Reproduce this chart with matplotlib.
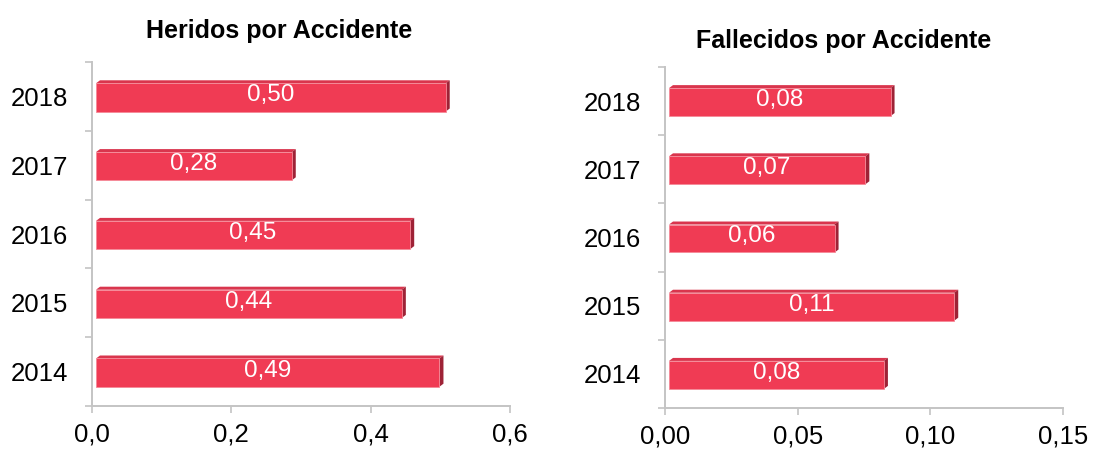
import numpy as np
import matplotlib
matplotlib.use("Agg")
import matplotlib.pyplot as plt
from matplotlib.patches import Polygon
from matplotlib.transforms import offset_copy

plt.rcParams['font.family'] = ['Liberation Sans', 'DejaVu Sans']

years = ['2014', '2015', '2016', '2017', '2018']
heridos = [0.493, 0.439, 0.451, 0.281, 0.502]
fallecidos = [0.081, 0.1075, 0.0624, 0.074, 0.0835]

FRONT = '#F03B54'
SIDE = '#9E2236'
TOP = '#D9354D'
AXIS_GREY = '#C4C4C4'
DPI = 100


def draw_panel(fig, rect, values, xmax, xticks, xfmt, title, title_xy):
    ax = fig.add_axes(rect)
    n = len(values)
    ypos = np.arange(n)
    ax.set_xlim(0, xmax)
    ax.set_ylim(-0.5, n - 0.5)

    # pixel -> data conversion for the 3d faces
    w_px = rect[2] * fig.get_figwidth() * DPI
    h_px = rect[3] * fig.get_figheight() * DPI
    dx = 4 * xmax / w_px
    dy = 3 * n / h_px
    h = 0.41
    shift = offset_copy(ax.transData, fig=fig, x=4, y=-1, units='dots')

    for y, v in zip(ypos, values):
        yb, yt = y - h / 2, y + h / 2
        ax.add_patch(Polygon([(0, yt), (v, yt), (v + dx, yt + dy), (dx, yt + dy)],
                             closed=True, facecolor=TOP, edgecolor='none', transform=shift))
        ax.add_patch(Polygon([(v, yb), (v, yt), (v + dx, yt + dy), (v + dx, yb + dy)],
                             closed=True, facecolor=SIDE, edgecolor='none', transform=shift))
        ax.barh(y, v, height=h, color=FRONT, edgecolor='#F58A98', linewidth=0.6, transform=shift)
        ax.text(v / 2, y + 0.03, xfmt(v), transform=shift, ha='center', va='center',
                color='white', fontsize=17.5)

    for s in ['top', 'right']:
        ax.spines[s].set_visible(False)
    for s in ['left', 'bottom']:
        ax.spines[s].set_color(AXIS_GREY)
        ax.spines[s].set_linewidth(1.4)

    ax.set_yticks(np.arange(-0.5, n, 1.0))
    ax.set_yticklabels([])
    ax.set_yticks(ypos, minor=True)
    ax.set_yticklabels(years, minor=True)
    ax.tick_params(axis='y', which='major', length=5, width=1.2, color=AXIS_GREY)
    ax.tick_params(axis='y', which='minor', length=0, pad=17, labelsize=18.5)

    ax.set_xticks(xticks)
    ax.set_xticklabels([xfmt(t) for t in xticks])
    ax.tick_params(axis='x', length=5, width=1.2, color=AXIS_GREY, pad=7, labelsize=18.5)

    fig.text(title_xy[0], title_xy[1], title, ha='center', va='baseline',
             fontsize=18, fontweight='bold')
    return ax


fig = plt.figure(figsize=(10.93, 4.51), dpi=DPI)

ax_l = draw_panel(fig, [92 / 1093, 45 / 451, 418 / 1093, 344 / 451], heridos, 0.6,
                  [0.0, 0.2, 0.4, 0.6], lambda v: f'{v:.2f}'.replace('.', ','),
                  'Heridos por Accidente', (279.5 / 1093, 1 - 38 / 451))
ax_l.set_xticklabels(['0,0', '0,2', '0,4', '0,6'])

draw_panel(fig, [665 / 1093, 43 / 451, 398 / 1093, 341 / 451], fallecidos, 0.15,
           [0.0, 0.05, 0.10, 0.15], lambda v: f'{v:.2f}'.replace('.', ','),
           'Fallecidos por Accidente', (843.5 / 1093, 1 - 48 / 451))

fig.savefig('out.png', dpi=DPI)
